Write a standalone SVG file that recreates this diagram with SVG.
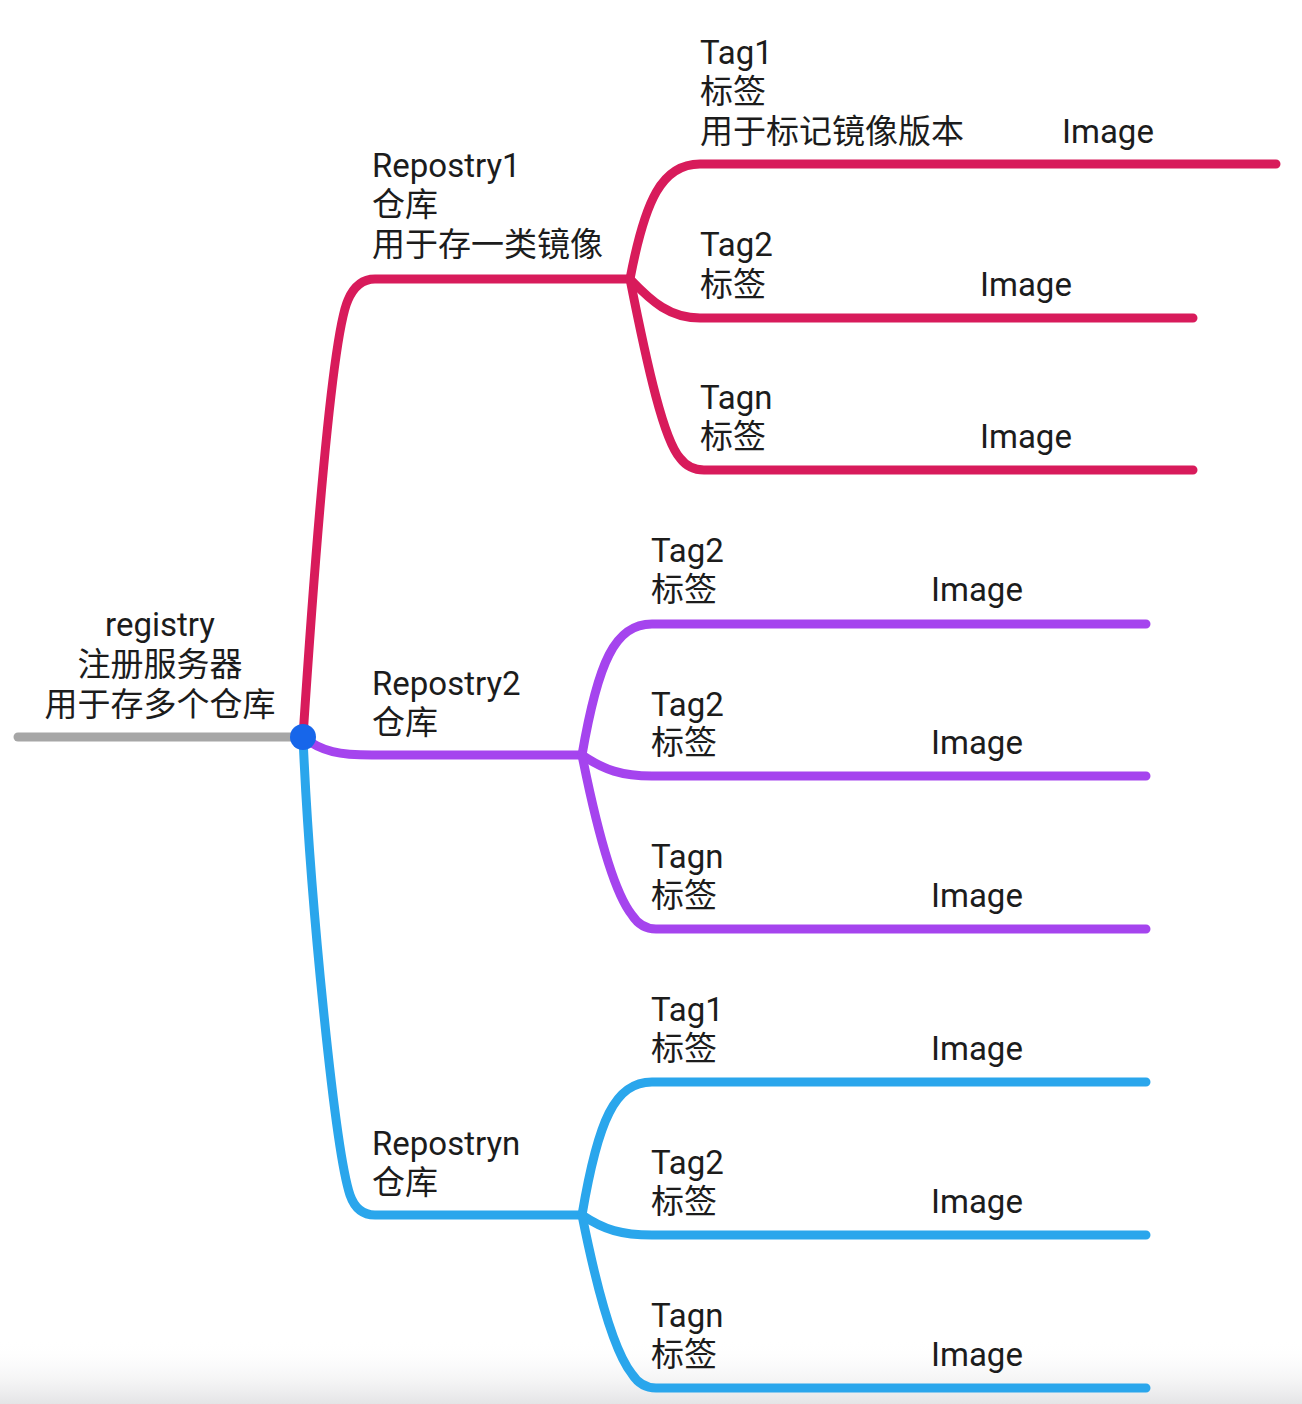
<svg xmlns="http://www.w3.org/2000/svg" width="1302" height="1404" viewBox="0 0 1302 1404">
<defs>
<style>
.t{font-family:Roboto,"Noto Sans CJK SC","Noto Sans",sans-serif;font-size:33px;fill:#1c1c1c}
.c{fill:none;stroke-width:9;stroke-linecap:round;stroke-linejoin:round}
.r{stroke:#d81b5b}
.p{stroke:#a544ee}
.b{stroke:#2aa6ec}
</style>
<linearGradient id="shade" x1="0" y1="0" x2="0" y2="1">
<stop offset="0" stop-color="#ffffff" stop-opacity="0"/>
<stop offset="1" stop-color="#e4e4e6"/>
</linearGradient>
</defs>
<rect width="1302" height="1404" fill="#ffffff"/>
<rect x="0" y="1340" width="1302" height="64" fill="url(#shade)"/>
<g id="connectors">
<path class="c" d="M18,737 L300,737" stroke="#a6a6a6" stroke-width="10"/>
<path class="c r" d="M303,737 C312,600 330,340 348,300 Q357,279 375,279 L630,279"/>
<path class="c r" d="M630,279 C645,200 662,164 700,164 L1276,164"/>
<path class="c r" d="M630,279 C652,302 670,318 700,318 L1193,318"/>
<path class="c r" d="M630,279 C648,370 664,440 680,458 Q689,470 704,470 L1193,470"/>
<path class="c p" d="M303,737 C322,752 340,755 372,755 L582,755"/>
<path class="c p" d="M582,755 C598,662 615,624 652,624 L1146,624"/>
<path class="c p" d="M582,755 C604,770 622,776 652,776 L1146,776"/>
<path class="c p" d="M582,755 C600,845 616,895 632,915 Q641,929 656,929 L1146,929"/>
<path class="c b" d="M303,737 C310,900 335,1150 350,1195 Q357,1215 375,1215 L582,1215"/>
<path class="c b" d="M582,1215 C598,1120 615,1082 652,1082 L1146,1082"/>
<path class="c b" d="M582,1215 C604,1230 622,1235 652,1235 L1146,1235"/>
<path class="c b" d="M582,1215 C600,1305 616,1354 632,1374 Q641,1388 656,1388 L1146,1388"/>
</g>
<g id="root">
<circle cx="303" cy="737" r="13" fill="#1766ea"/>
<text class="t" x="160" y="636" text-anchor="middle">registry</text>
<text class="t" x="160" y="676" text-anchor="middle">注册服务器</text>
<text class="t" x="160" y="716" text-anchor="middle">用于存多个仓库</text>
</g>
<g id="repo1">
<text class="t" x="372" y="177">Repostry1</text>
<text class="t" x="372" y="216">仓库</text>
<text class="t" x="372" y="256">用于存一类镜像</text>
</g>
<g id="repo1-tag1">
<text class="t" x="700" y="64">Tag1</text>
<text class="t" x="700" y="103">标签</text>
<text class="t" x="700" y="143">用于标记镜像版本</text>
<text class="t" x="1062" y="143">Image</text>
</g>
<g id="repo1-tag2">
<text class="t" x="700" y="256">Tag2</text>
<text class="t" x="700" y="296">标签</text>
<text class="t" x="980" y="296">Image</text>
</g>
<g id="repo1-tagn">
<text class="t" x="700" y="409">Tagn</text>
<text class="t" x="700" y="448">标签</text>
<text class="t" x="980" y="448">Image</text>
</g>
<g id="repo2">
<text class="t" x="372" y="695">Repostry2</text>
<text class="t" x="372" y="734">仓库</text>
</g>
<g id="repo2-tag2a">
<text class="t" x="651" y="562">Tag2</text>
<text class="t" x="651" y="601">标签</text>
<text class="t" x="931" y="601">Image</text>
</g>
<g id="repo2-tag2b">
<text class="t" x="651" y="716">Tag2</text>
<text class="t" x="651" y="754">标签</text>
<text class="t" x="931" y="754">Image</text>
</g>
<g id="repo2-tagn">
<text class="t" x="651" y="868">Tagn</text>
<text class="t" x="651" y="907">标签</text>
<text class="t" x="931" y="907">Image</text>
</g>
<g id="repon">
<text class="t" x="372" y="1155">Repostryn</text>
<text class="t" x="372" y="1194">仓库</text>
</g>
<g id="repon-tag1">
<text class="t" x="651" y="1021">Tag1</text>
<text class="t" x="651" y="1060">标签</text>
<text class="t" x="931" y="1060">Image</text>
</g>
<g id="repon-tag2">
<text class="t" x="651" y="1174">Tag2</text>
<text class="t" x="651" y="1213">标签</text>
<text class="t" x="931" y="1213">Image</text>
</g>
<g id="repon-tagn">
<text class="t" x="651" y="1327">Tagn</text>
<text class="t" x="651" y="1366">标签</text>
<text class="t" x="931" y="1366">Image</text>
</g>
</svg>
